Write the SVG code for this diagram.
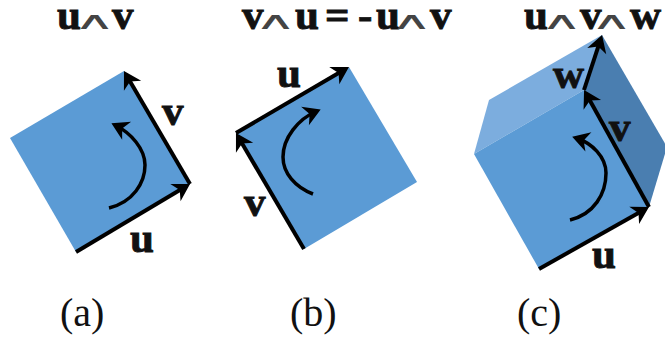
<svg xmlns="http://www.w3.org/2000/svg" width="665" height="343" viewBox="0 0 665 343">
<style>
.t{font-family:"Liberation Serif","Times New Roman",serif;font-weight:700;font-size:43px;fill:#111;stroke:#111;stroke-width:.9}
.w{font-family:"DejaVu Sans",sans-serif;font-weight:200;font-size:24px;fill:#444;stroke:none}
.c{font-family:"Liberation Serif","Times New Roman",serif;font-size:40px;fill:#111}
.front{fill:#5b9bd5}
.top{fill:#7cadde}
.side{fill:#4a7eb0}
.a{fill:none;stroke:#000;stroke-width:4;marker-end:url(#h)}
.b{fill:none;stroke:#000;stroke-width:3.5;marker-end:url(#h)}
</style>
<defs>
<marker id="h" markerUnits="userSpaceOnUse" markerWidth="30" markerHeight="30" refX="15" refY="10" orient="auto" viewBox="0 0 30 20">
<path d="M2,0 L19,10 L2,20 L7,10 Z" fill="#000"/>
</marker>
</defs>
<rect width="665" height="343" fill="#fff"/>
<g id="node-a">
<polygon class="front" points="124,71 190,184 76,252 10,138"/>
<text class="t" y="29"><tspan x="57">u</tspan><tspan class="w" x="73" textLength="44" lengthAdjust="spacingAndGlyphs">∧</tspan><tspan x="112">v</tspan></text>
<text class="t" x="162" y="125">v</text>
<text class="t" x="130" y="252">u</text>
<text class="c" x="60" y="326">(a)</text>
</g>
<g id="node-b">
<polygon class="front" points="349,67 417,182 304,249 236,133"/>
<text class="t" y="29"><tspan x="242">v</tspan><tspan class="w" x="254" textLength="44" lengthAdjust="spacingAndGlyphs">∧</tspan><tspan x="295">u</tspan><tspan x="325">=</tspan><tspan x="358">-</tspan><tspan x="376">u</tspan><tspan class="w" x="390" textLength="44" lengthAdjust="spacingAndGlyphs">∧</tspan><tspan x="430">v</tspan></text>
<text class="t" x="277" y="87">u</text>
<text class="t" x="244" y="216">v</text>
<text class="c" x="290" y="326">(b)</text>
</g>
<g id="node-c">
<polygon class="top" points="474,154 489,100 602,35 584,90"/>
<polygon class="side" points="584,90 602,35 667,147 649,207"/>
<polygon class="front" points="584,90 649,207 539,269 474,154"/>
<text class="t" y="29"><tspan x="524">u</tspan><tspan class="w" x="540" textLength="44" lengthAdjust="spacingAndGlyphs">∧</tspan><tspan x="580">v</tspan><tspan class="w" x="590" textLength="44" lengthAdjust="spacingAndGlyphs">∧</tspan><tspan x="630">w</tspan></text>
<text class="t" x="553" y="88">w</text>
<text class="t" x="609" y="141">v</text>
<text class="t" x="592" y="268">u</text>
<text class="c" x="517" y="326">(c)</text>
</g>
<g id="connectors">
<path class="a" d="M76,252 L186.6,186"/>
<path class="a" d="M190,184 L126,74.5"/>
<path class="b" d="M109,208 C133,202 145,183 145,165 C145,149 131,133 115,125"/>
<path class="a" d="M236,133 L345.5,69"/>
<path class="a" d="M304,249 L238,136.5"/>
<path class="b" d="M313,194 C295,187 283,173 283,157 C283,138 298,119 317,111"/>
<path class="a" d="M539,269 L645.5,209"/>
<path class="a" d="M649,207 L586,93.5"/>
<path class="a" d="M584,90 L600.8,38.8"/>
<path class="b" d="M570,220 C594,214 606,194 606,173 C606,157 592,143 576,138"/>
</g>
</svg>
